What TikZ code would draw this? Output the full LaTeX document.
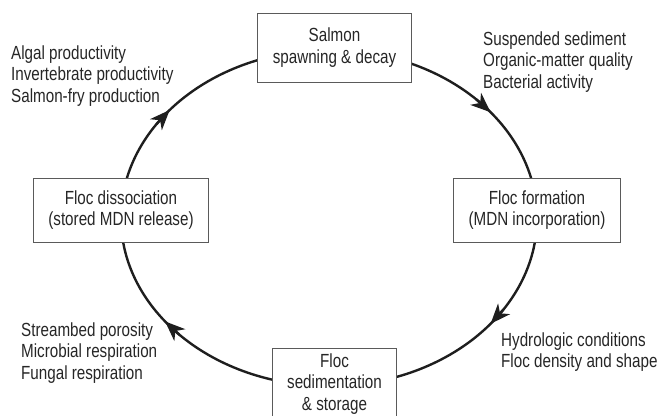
\documentclass[tikz,border=0pt]{standalone}
\usepackage{fontspec}
\setmainfont{Liberation Sans}[FakeStretch=0.8]
\usetikzlibrary{arrows.meta}
\definecolor{ink}{HTML}{1E1E1E}
\definecolor{txt}{HTML}{262626}
\definecolor{boxline}{HTML}{5A5A5A}
\begin{document}
\begin{tikzpicture}[x=1pt,y=-1pt,
  every node/.style={font=\fontsize{19}{21.5}\selectfont, text=txt},
  stagebox/.style={draw=boxline, line width=1pt, fill=white, align=center, inner xsep=15pt, inner ysep=0pt},
  note/.style={align=left, anchor=west, inner sep=0pt},
  cycleline/.style={draw=ink, line width=2.4pt},
  tip/.style={draw=ink, line width=2.4pt, -{Stealth[length=20pt,width=16pt,inset=6pt]}}
]
\useasboundingbox (0,0) rectangle (661,415);
% cycle
\draw[cycleline] (329,218) ellipse [x radius=208, y radius=168];
% arrow heads (clockwise on screen)
\foreach \t/\nm in {321/ar, 39/br, 142/bl, 220/tl}{
  \coordinate (\nm s) at ({329+208*cos(\t-6)},{218+168*sin(\t-6)});
  \coordinate (\nm e) at ({329+208*cos(\t)},{218+168*sin(\t)});
  \draw[tip] (\nm s) -- (\nm e);
}
% stage boxes
\node[stagebox, minimum width=147pt, minimum height=69pt] (top) at (334.5,47.5) {Salmon\\spawning \& decay};
\node[stagebox, minimum height=64pt] (right) at (537,210) {Floc formation\\(MDN incorporation)};
\node[stagebox, minimum height=64pt] (left) at (121,210) {Floc dissociation\\(stored MDN release)};
\node[stagebox, minimum width=117pt, minimum height=72pt] (bottom) at (334.5,384) {Floc\\sedimentation\\\& storage};
% annotations
\node[note] (tlnote) at (11,76) {Algal productivity\\Invertebrate productivity\\Salmon-fry production};
\node[note] (trnote) at (483,62) {Suspended sediment\\Organic-matter quality\\Bacterial activity};
\node[note] (blnote) at (21,353) {Streambed porosity\\Microbial respiration\\Fungal respiration};
\node[note] (brnote) at (501,352) {Hydrologic conditions\\Floc density and shape};
\end{tikzpicture}
\end{document}
